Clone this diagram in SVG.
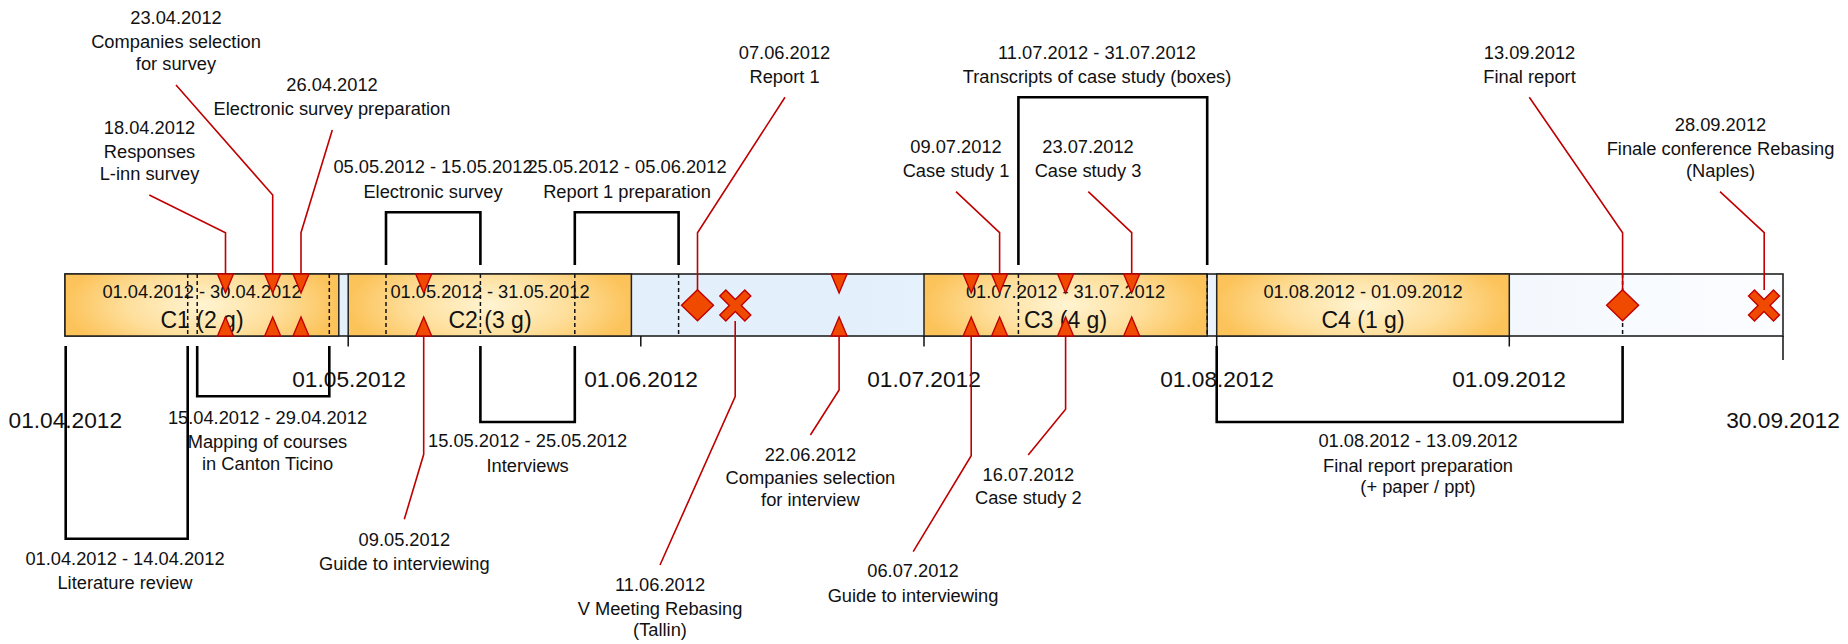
<svg xmlns="http://www.w3.org/2000/svg" width="1848" height="644" viewBox="0 0 1848 644">
<defs>
<linearGradient id="gBlue" x1="0" y1="0" x2="1" y2="0">
<stop offset="0" stop-color="#E4F1FB"/>
<stop offset="0.45" stop-color="#E3F0FB"/>
<stop offset="0.75" stop-color="#EEF5FD"/>
<stop offset="1" stop-color="#FCFDFF"/>
</linearGradient>
<radialGradient id="gOrange" cx="0.5" cy="0.5" r="0.5" gradientTransform="translate(0.5,0.5) scale(1,1.8) translate(-0.5,-0.5)">
<stop offset="0" stop-color="#FFF4D2"/>
<stop offset="0.55" stop-color="#FEDF9C"/>
<stop offset="1" stop-color="#FCC35A"/>
</radialGradient>
<polygon id="tdown" points="-8,0 8,0 0,19"/>
<polygon id="tup" points="-8,0 8,0 0,-19"/>
<polygon id="dia" points="0,-15.5 16,0 0,15.5 -16,0"/>
<polygon id="cross" points="-9.5,-15.5 0,-6 9.5,-15.5 15.5,-9.5 6,0 15.5,9.5 9.5,15.5 0,6 -9.5,15.5 -15.5,9.5 -6,0 -15.5,-9.5"/>
</defs>
<style>
text{font-family:"Liberation Sans",Arial,sans-serif;fill:#111;text-anchor:middle}
.s{font-size:18.3px}
.big{font-size:22.7px}
.seg{fill:url(#gOrange);stroke:#222;stroke-width:1.5}
.bar{fill:url(#gBlue);stroke:#222;stroke-width:1.6}
.dash{stroke:#111;stroke-width:1.5;stroke-dasharray:4 3;fill:none}
.tick{stroke:#111;stroke-width:1.5;fill:none}
.br{stroke:#000;stroke-width:2.6;fill:none}
.ln{stroke:#C00000;stroke-width:1.6;fill:none}
.mk{fill:#F04A00;stroke:#C00000;stroke-width:1.4}
</style>

<g id="timeline">
<rect class="bar" x="65" y="274" width="1718" height="62"/>
<g id="C1"><rect class="seg" x="65" y="274" width="273.8" height="62"/>
<text class="s" x="202" y="298">01.04.2012 - 30.04.2012</text>
<text x="202" y="327.5" style="font-size:23px">C1 (2 g)</text></g>
<g id="C2"><rect class="seg" x="348.2" y="274" width="283.2" height="62"/>
<text class="s" x="490" y="298">01.05.2012 - 31.05.2012</text>
<text x="490" y="327.5" style="font-size:23px">C2 (3 g)</text></g>
<g id="C3"><rect class="seg" x="924" y="274" width="283.2" height="62"/>
<text class="s" x="1065.5" y="298">01.07.2012 - 31.07.2012</text>
<text x="1065.5" y="327.5" style="font-size:23px">C3 (4 g)</text></g>
<g id="C4"><rect class="seg" x="1216.7" y="274" width="292.6" height="62"/>
<text class="s" x="1363" y="298">01.08.2012 - 01.09.2012</text>
<text x="1363" y="327.5" style="font-size:23px">C4 (1 g)</text></g>
<g id="dashes">
<path class="dash" d="M187.7,274V336M197.2,274V336M329.3,274V336M386,274V336M480.4,274V336M574.8,274V336M678.6,274V336M1018.4,274V336M1207.2,274V336M1622.6,274V336"/>
</g>
<g id="ticks">
<path class="tick" d="M348.2,336V346.5M640.8,336V346.5M924,336V346.5M1216.7,336V346.5M1509.3,336V346.5M1783,336V360"/>
</g>
<g id="axis-labels">
<text class="big" x="65.3" y="427.7">01.04.2012</text>
<text class="big" x="349" y="386.7">01.05.2012</text>
<text class="big" x="641" y="386.7">01.06.2012</text>
<text class="big" x="924" y="386.7">01.07.2012</text>
<text class="big" x="1217" y="386.7">01.08.2012</text>
<text class="big" x="1509" y="386.7">01.09.2012</text>
<text class="big" x="1783" y="427.7">30.09.2012</text>
</g>
</g>

<g id="connectors">
<polyline class="ln" points="149.3,195 225.5,232.7 225.5,274"/>
<polyline class="ln" points="176,85 272.7,195 272.7,274"/>
<polyline class="ln" points="332.3,130 301,232.7 301,274"/>
<polyline class="ln" points="423.7,336 423.7,454.3 404.3,519.3"/>
<polyline class="ln" points="785,97.3 697.5,232.7 697.5,290"/>
<polyline class="ln" points="735.2,321 735.2,396.7 660,565"/>
<polyline class="ln" points="839.1,336 839.1,390 810.4,435"/>
<polyline class="ln" points="971.2,336 971.2,455.7 913.2,551.7"/>
<polyline class="ln" points="956,191.7 999.6,232.7 999.6,274"/>
<polyline class="ln" points="1065.6,336 1065.6,409.3 1028.2,455"/>
<polyline class="ln" points="1088.3,191.7 1131.7,232.7 1131.7,274"/>
<polyline class="ln" points="1529.3,97.3 1622.6,232.7 1622.6,290"/>
<polyline class="ln" points="1720,191.7 1764.2,232.7 1764.2,290"/>
<path class="br" d="M65.7,346V538.7H187.7V346"/>
<path class="br" d="M197.2,346V396.3H329.3V346"/>
<path class="br" d="M480.4,346V422H574.8V346"/>
<path class="br" d="M1216.7,346V422H1622.6V346"/>
<path class="br" d="M386,265V212.3H480.4V265"/>
<path class="br" d="M574.8,265V212.3H678.6V265"/>
<path class="br" d="M1018.4,265V97.3H1207.2V265"/>
</g>

<g id="markers">
<g id="m-1804"><use href="#tdown" class="mk" x="225.5" y="274"/><use href="#tup" class="mk" x="225.5" y="336"/></g>
<g id="m-2304"><use href="#tdown" class="mk" x="272.7" y="274"/><use href="#tup" class="mk" x="272.7" y="336"/></g>
<g id="m-2604"><use href="#tdown" class="mk" x="301" y="274"/><use href="#tup" class="mk" x="301" y="336"/></g>
<g id="m-0905"><use href="#tdown" class="mk" x="423.7" y="274"/><use href="#tup" class="mk" x="423.7" y="336"/></g>
<g id="m-0706"><use href="#dia" class="mk" x="697.5" y="305.3"/></g>
<g id="m-1106"><use href="#cross" class="mk" x="735.3" y="305.6"/></g>
<g id="m-2206"><use href="#tdown" class="mk" x="839.1" y="274"/><use href="#tup" class="mk" x="839.1" y="336"/></g>
<g id="m-0607"><use href="#tdown" class="mk" x="971.2" y="274"/><use href="#tup" class="mk" x="971.2" y="336"/></g>
<g id="m-0907"><use href="#tdown" class="mk" x="999.6" y="274"/><use href="#tup" class="mk" x="999.6" y="336"/></g>
<g id="m-1607"><use href="#tdown" class="mk" x="1065.6" y="274"/><use href="#tup" class="mk" x="1065.6" y="336"/></g>
<g id="m-2307"><use href="#tdown" class="mk" x="1131.7" y="274"/><use href="#tup" class="mk" x="1131.7" y="336"/></g>
<g id="m-1309"><use href="#dia" class="mk" x="1622.6" y="305.3"/></g>
<g id="m-2809"><use href="#cross" class="mk" x="1764" y="305.5"/></g>
</g>

<g id="lbl-companies-survey"><text class="s" x="176" y="24">23.04.2012</text><text class="s" x="176" y="48.3">Companies selection</text><text class="s" x="176" y="70">for survey</text></g>
<g id="lbl-esurvey-prep"><text class="s" x="332" y="90.7">26.04.2012</text><text class="s" x="332" y="115">Electronic survey preparation</text></g>
<g id="lbl-responses"><text class="s" x="149.5" y="134">18.04.2012</text><text class="s" x="149.5" y="158.3">Responses</text><text class="s" x="149.5" y="180">L-inn survey</text></g>
<g id="lbl-esurvey"><text class="s" x="433" y="173.3">05.05.2012 - 15.05.2012</text><text class="s" x="433" y="197.7">Electronic survey</text></g>
<g id="lbl-report1-prep"><text class="s" x="627" y="173.3">25.05.2012 - 05.06.2012</text><text class="s" x="627" y="197.7">Report 1 preparation</text></g>
<g id="lbl-report1"><text class="s" x="784.5" y="59.3">07.06.2012</text><text class="s" x="784.5" y="83.3">Report 1</text></g>
<g id="lbl-transcripts"><text class="s" x="1097" y="59.3">11.07.2012 - 31.07.2012</text><text class="s" x="1097" y="83.3">Transcripts of case study (boxes)</text></g>
<g id="lbl-cs1"><text class="s" x="956" y="153.3">09.07.2012</text><text class="s" x="956" y="176.7">Case study 1</text></g>
<g id="lbl-cs3"><text class="s" x="1088" y="153.3">23.07.2012</text><text class="s" x="1088" y="176.7">Case study 3</text></g>
<g id="lbl-final"><text class="s" x="1529.5" y="59.3">13.09.2012</text><text class="s" x="1529.5" y="83.3">Final report</text></g>
<g id="lbl-naples"><text class="s" x="1720.5" y="130.7">28.09.2012</text><text class="s" x="1720.5" y="155">Finale conference Rebasing</text><text class="s" x="1720.5" y="176.7">(Naples)</text></g>
<g id="lbl-literature"><text class="s" x="125" y="565.3">01.04.2012 - 14.04.2012</text><text class="s" x="125" y="589.3">Literature review</text></g>
<g id="lbl-mapping"><text class="s" x="267.5" y="424">15.04.2012 - 29.04.2012</text><text class="s" x="267.5" y="447.5">Mapping of courses</text><text class="s" x="267.5" y="469.5">in Canton Ticino</text></g>
<g id="lbl-interviews"><text class="s" x="527.6" y="447.3">15.05.2012 - 25.05.2012</text><text class="s" x="527.6" y="471.5">Interviews</text></g>
<g id="lbl-guide1"><text class="s" x="404.3" y="546">09.05.2012</text><text class="s" x="404.3" y="570">Guide to interviewing</text></g>
<g id="lbl-tallin"><text class="s" x="660" y="590.7">11.06.2012</text><text class="s" x="660" y="614.5">V Meeting Rebasing</text><text class="s" x="660" y="636">(Tallin)</text></g>
<g id="lbl-companies-interview"><text class="s" x="810.4" y="460.7">22.06.2012</text><text class="s" x="810.4" y="484.3">Companies selection</text><text class="s" x="810.4" y="506">for interview</text></g>
<g id="lbl-guide2"><text class="s" x="913" y="577.3">06.07.2012</text><text class="s" x="913" y="601.5">Guide to interviewing</text></g>
<g id="lbl-cs2"><text class="s" x="1028.3" y="480.7">16.07.2012</text><text class="s" x="1028.3" y="504">Case study 2</text></g>
<g id="lbl-final-prep"><text class="s" x="1418" y="447.3">01.08.2012 - 13.09.2012</text><text class="s" x="1418" y="471.5">Final report preparation</text><text class="s" x="1418" y="493.3">(+ paper / ppt)</text></g>
</svg>
